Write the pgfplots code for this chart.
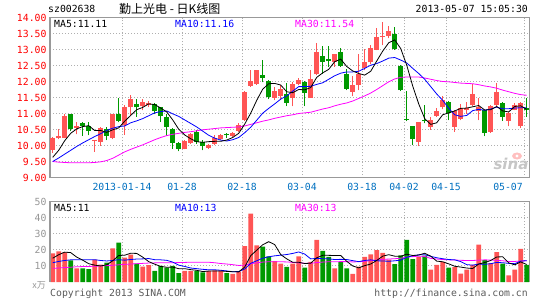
\documentclass[border=0pt]{standalone}
\usepackage{pgfplots}
\pgfplotsset{compat=1.18}
\usepackage{pgfplotstable}
\usepackage{fontspec}
\setmonofont{DejaVu Sans Mono}
\setsansfont{DejaVu Sans}
\newfontfamily\cjk{Noto Sans CJK SC}
\definecolor{kred}{RGB}{255,85,85}
\definecolor{kgreen}{RGB}{0,153,0}
\definecolor{framec}{RGB}{153,153,153}
\definecolor{gridc}{RGB}{175,175,175}
\definecolor{datec}{RGB}{0,112,192}
\definecolor{ma10c}{RGB}{0,0,255}
\definecolor{ma30c}{RGB}{255,0,255}
\definecolor{labgray}{RGB}{150,150,150}
\definecolor{copyc}{RGB}{90,90,90}
\newcommand{\mono}{\ttfamily\fontsize{9.8}{10}\selectfont}
\pgfplotsset{
  candle/.style 2 args={forget plot, only marks, mark=*, mark size=0pt,
    mark options={draw=none, fill=none},
    error bars/.cd, y dir=plus, y explicit, error mark=none,
    error bar style={draw=#1, line width=#2}},
}

\pgfplotstableread{
x o h l c
0 9.87 10.27 9.78 10.22
1 10.22 10.53 10.20 10.30
2 10.25 10.98 10.22 10.93
4 10.55 10.72 10.35 10.60
7 10.14 10.17 9.80 10.17
8 10.11 10.58 10.00 10.55
10 10.25 11.00 10.20 10.98
12 10.64 11.26 10.33 11.19
13 11.19 11.57 10.95 11.45
15 11.22 11.45 11.10 11.35
16 11.28 11.40 11.20 11.33
22 9.90 10.17 9.88 10.15
23 10.08 10.40 10.05 10.35
26 9.93 10.04 9.90 10.01
27 10.06 10.32 10.01 10.22
28 10.20 10.37 10.17 10.32
30 10.30 10.42 10.28 10.39
31 10.45 10.69 10.42 10.64
32 10.80 11.70 10.77 11.68
33 11.86 12.36 11.83 12.01
34 11.92 12.37 11.90 12.35
37 11.50 11.83 11.42 11.70
38 11.54 11.89 11.42 11.76
40 11.50 11.99 11.23 11.92
41 11.92 12.12 11.89 12.06
43 11.50 12.35 11.50 12.09
44 12.22 13.19 12.20 12.92
47 12.62 12.87 12.46 12.87
50 11.68 12.17 11.54 11.89
51 11.89 12.85 11.73 12.25
52 12.41 13.03 12.35 12.61
53 12.60 13.15 12.56 13.05
54 13.00 13.66 12.98 13.40
55 13.40 13.86 13.14 13.43
56 13.42 13.73 13.35 13.58
61 10.12 10.74 9.98 10.74
63 10.58 10.90 10.50 10.80
64 10.93 11.16 10.90 11.08
65 11.19 11.54 11.13 11.42
67 10.58 11.10 10.43 11.08
68 10.84 11.31 10.79 11.18
69 11.10 11.36 11.00 11.16
70 11.26 11.92 11.23 11.62
71 11.08 11.50 10.79 11.19
73 10.43 11.26 10.40 11.23
74 11.26 11.96 11.19 11.68
76 10.77 11.05 10.60 11.02
77 11.12 11.33 11.10 11.28
78 10.60 11.36 10.56 11.33
}\redk

\pgfplotstableread{
x o h l c
3 10.98 11.00 10.45 10.53
5 10.69 10.74 10.30 10.60
6 10.62 10.74 10.32 10.45
9 10.53 10.58 10.17 10.30
11 11.00 11.50 10.72 10.77
14 11.31 11.45 10.90 11.19
17 11.31 11.33 10.98 11.07
18 11.19 11.20 10.74 10.92
19 10.90 11.00 10.29 10.58
20 10.53 10.55 9.90 10.08
21 10.08 10.10 9.82 9.90
24 10.42 10.47 10.06 10.11
25 10.11 10.17 9.85 9.98
29 10.35 10.40 10.25 10.32
35 12.20 12.67 11.97 12.11
36 12.01 12.06 11.45 11.52
39 11.60 11.96 11.23 11.33
42 11.97 12.01 11.23 11.65
45 12.79 13.10 12.25 12.61
46 12.70 13.10 12.46 12.63
48 12.92 13.06 12.46 12.48
49 12.25 12.38 11.73 11.78
57 13.50 13.71 13.00 13.03
58 12.48 12.51 11.70 11.73
59 10.83 11.70 10.76 10.79
60 10.60 10.60 10.01 10.19
62 10.79 11.26 10.69 10.76
66 11.36 11.40 10.79 11.02
72 11.10 11.12 10.29 10.40
75 11.33 11.36 10.77 10.90
79 11.16 11.50 10.90 11.12
}\greenk

\pgfplotstableread{
x ma5 ma10 ma30
0 9.63 9.50 9.50
1 9.85 9.61 9.48
2 10.15 9.73 9.47
3 10.38 9.85 9.46
4 10.52 9.97 9.46
5 10.59 10.08 9.46
6 10.62 10.18 9.46
7 10.47 10.28 9.47
8 10.47 10.37 9.49
9 10.41 10.47 9.53
10 10.49 10.54 9.60
11 10.55 10.59 9.70
12 10.76 10.61 9.80
13 10.94 10.71 9.88
14 11.12 10.77 9.95
15 11.19 10.84 10.02
16 11.30 10.93 10.10
17 11.28 11.02 10.18
18 11.17 11.06 10.25
19 11.05 11.08 10.31
20 10.80 10.99 10.35
21 10.51 10.91 10.38
22 10.33 10.80 10.41
23 10.21 10.69 10.43
24 10.12 10.58 10.46
25 10.10 10.45 10.49
26 10.12 10.32 10.51
27 10.13 10.23 10.53
28 10.13 10.17 10.55
29 10.17 10.14 10.56
30 10.25 10.18 10.57
31 10.38 10.25 10.58
32 10.67 10.40 10.61
33 11.01 10.57 10.66
34 11.41 10.79 10.71
35 11.76 11.01 10.76
36 11.93 11.16 10.80
37 11.94 11.30 10.85
38 11.89 11.45 10.89
39 11.68 11.55 10.93
40 11.65 11.70 10.96
41 11.75 11.84 11.00
42 11.74 11.84 11.02
43 11.81 11.85 11.04
44 12.13 11.91 11.09
45 12.27 11.96 11.14
46 12.38 12.07 11.18
47 12.62 12.18 11.24
48 12.70 12.26 11.29
49 12.47 12.30 11.33
50 12.33 12.30 11.39
51 12.25 12.32 11.47
52 12.20 12.41 11.55
53 12.32 12.51 11.64
54 12.64 12.56 11.75
55 12.95 12.64 11.87
56 13.21 12.73 11.99
57 13.30 12.75 12.08
58 13.03 12.67 12.13
59 12.51 12.58 12.14
60 11.86 12.41 12.14
61 11.30 12.25 12.14
62 10.84 12.07 12.11
63 10.66 11.84 12.07
64 10.71 11.61 12.03
65 10.96 11.41 12.00
66 11.02 11.16 11.99
67 11.08 10.96 11.97
68 11.16 10.91 11.95
69 11.17 10.94 11.94
70 11.21 11.09 11.93
71 11.25 11.13 11.90
72 11.11 11.10 11.86
73 11.12 11.14 11.83
74 11.22 11.20 11.79
75 11.08 11.15 11.73
76 11.05 11.15 11.68
77 11.22 11.17 11.63
78 11.24 11.18 11.59
79 11.13 11.18 11.57
}\mak

\pgfplotstableread{
x v
0 17.8
1 19.0
2 18.5
4 8.5
7 14.0
8 10.8
10 21.0
12 15.2
13 17.0
15 9.5
16 10.5
22 7.0
23 7.0
26 7.0
27 7.3
28 7.0
30 5.0
31 6.5
32 22.3
33 42.5
34 22.8
37 13.0
38 11.5
40 11.5
41 16.0
43 12.5
44 26.3
47 8.5
50 5.0
51 9.5
52 15.7
53 17.2
54 19.8
55 18.2
56 14.0
61 15.7
63 7.7
64 10.7
65 12.5
67 9.2
68 5.2
69 7.7
70 10.7
71 23.2
73 11.7
74 18.6
76 4.2
77 7.7
78 20.7
}\redv

\pgfplotstableread{
x v
3 13.5
5 8.5
6 8.0
9 12.0
11 24.5
14 11.5
17 7.0
18 10.0
19 9.0
20 10.0
21 5.5
24 7.0
25 6.0
29 5.6
35 22.0
36 16.0
39 9.4
42 9.0
45 19.4
46 15.6
48 12.5
49 8.5
57 11.2
58 16.6
59 26.3
60 14.2
62 16.5
66 9.0
72 13.7
75 11.4
79 10.7
}\greenv

\pgfplotstableread{
x ma5 ma10 ma30
0 14.8 12.0 8.5
1 17.0 12.8 8.7
2 18.6 13.4 9.0
3 18.3 13.8 9.2
4 15.5 13.9 9.5
5 13.6 13.9 9.6
6 11.4 13.9 9.7
7 10.5 13.9 9.8
8 10.0 13.4 10.0
9 10.7 13.1 10.2
10 13.2 13.4 10.4
11 16.5 13.9 10.7
12 16.7 13.6 11.0
13 17.9 14.0 11.2
14 17.8 14.3 11.4
15 15.5 14.4 11.6
16 12.7 14.6 11.8
17 11.1 13.9 11.9
18 9.7 13.8 12.0
19 9.2 13.5 12.0
20 9.3 12.4 12.0
21 8.3 10.5 12.1
22 8.3 9.7 12.2
23 7.7 8.7 12.3
24 7.3 8.3 12.3
25 6.5 7.9 12.3
26 6.8 7.6 12.3
27 6.9 7.6 12.0
28 6.9 7.3 11.5
29 6.6 6.9 11.2
30 6.4 6.4 10.8
31 6.3 6.5 10.3
32 9.3 8.1 10.5
33 16.4 11.6 11.4
34 19.8 13.2 11.9
35 23.2 14.8 12.4
36 25.1 15.7 12.6
37 23.3 16.3 12.6
38 17.1 16.7 12.6
39 14.4 17.1 12.5
40 12.3 17.8 12.2
41 12.3 18.7 11.9
42 11.5 17.4 11.7
43 11.7 14.4 11.6
44 15.1 14.7 12.1
45 16.6 14.5 12.4
46 16.6 14.4 12.6
47 16.5 14.0 12.6
48 16.5 14.1 12.7
49 12.9 14.0 12.7
50 10.0 13.3 12.5
51 8.8 12.7 12.6
52 10.2 13.4 12.9
53 11.2 13.8 13.3
54 13.4 13.2 13.7
55 16.1 13.1 14.1
56 17.0 12.9 14.3
57 16.1 13.2 14.5
58 16.0 13.6 14.8
59 17.3 15.4 15.5
60 16.5 16.3 15.8
61 16.8 16.9 16.1
62 17.9 17.0 15.9
63 16.1 16.0 14.7
64 13.0 15.1 14.3
65 12.6 14.5 14.0
66 11.3 14.0 13.8
67 9.8 13.8 13.7
68 9.3 12.7 13.5
69 8.7 10.8 13.4
70 8.4 10.5 13.4
71 11.2 11.2 13.6
72 12.1 11.0 13.8
73 13.4 11.4 13.7
74 15.6 12.2 13.5
75 15.7 12.0 13.2
76 11.9 11.6 12.8
77 10.7 11.4 12.8
78 12.5 13.0 13.1
79 10.9 13.3 13.2
}\mavol

\begin{document}
\begin{tikzpicture}
\useasboundingbox (0,0) rectangle (545pt,300pt);

% ---------------- upper (price) panel
\begin{axis}[
  at={(50pt,122.5pt)}, anchor=south west, scale only axis,
  width=479.3pt, height=160pt,
  xmin=-0.45, xmax=79.43, ymin=9, ymax=14,
  axis line style={draw=framec, line width=1.3pt},
  xtick={11.6,21.6,31.6,41.6,51.6,58.6,65.6,78.6},
  xticklabel=\empty,
  ytick={9,9.5,10,10.5,11,11.5,12,12.5,13,13.5,14},
  yticklabels={9.00,9.50,10.00,10.50,11.00,11.50,12.00,12.50,13.00,13.50,14.00},
  yticklabel style={text=red, font=\mono},
  major tick length=0pt,
  grid=major,
  major grid style={draw=gridc, dash pattern=on 1pt off 2pt, line width=0.9pt},
  clip mode=individual,
]
% wicks
\addplot[candle={kred}{1pt}]
  table[x=x, y=l, y error expr=\thisrow{h}-\thisrow{l}] {\redk};
\addplot[candle={kgreen}{1pt}]
  table[x=x, y=l, y error expr=\thisrow{h}-\thisrow{l}] {\greenk};
% bodies
\addplot[candle={kred}{4.6pt}]
  table[x=x, y=o, y error expr=\thisrow{c}-\thisrow{o}] {\redk};
\addplot[candle={kgreen}{4.6pt}]
  table[x=x, y=c, y error expr=\thisrow{o}-\thisrow{c}] {\greenk};
% moving averages
\addplot[ma30c, line width=0.8pt, mark=none] table[x=x, y=ma30] {\mak};
\addplot[ma10c, line width=0.8pt, mark=none] table[x=x, y=ma10] {\mak};
\addplot[black, line width=0.8pt, mark=none] table[x=x, y=ma5] {\mak};
\end{axis}

% ---------------- lower (volume) panel
\begin{axis}[
  at={(50pt,18pt)}, anchor=south west, scale only axis,
  width=479.3pt, height=80.3pt,
  xmin=-0.45, xmax=79.43, ymin=0, ymax=50,
  axis line style={draw=none},
  xtick={11.6,21.6,31.6,41.6,51.6,58.6,65.6,78.6},
  xticklabel=\empty,
  ytick={10,20,30,40,50},
  yticklabels={10,20,30,40,50},
  yticklabel style={text=labgray, font=\mono},
  major tick length=0pt,
  grid=major,
  major grid style={draw=gridc, dash pattern=on 1pt off 2pt, line width=0.9pt},
  clip mode=individual,
]
\addplot[ybar, bar width=4.8pt, bar shift=0pt, fill=kred, draw=none] table[x=x, y=v] {\redv};
\addplot[ybar, bar width=4.8pt, bar shift=0pt, fill=kgreen, draw=none] table[x=x, y=v] {\greenv};
\addplot[ma30c, line width=0.8pt, mark=none] table[x=x, y=ma30] {\mavol};
\addplot[ma10c, line width=0.8pt, mark=none] table[x=x, y=ma10] {\mavol};
\addplot[black, line width=0.8pt, mark=none] table[x=x, y=ma5] {\mavol};
\end{axis}
\draw[framec, line width=1.3pt] (50pt,18pt) -- (50pt,98.3pt) -- (529.3pt,98.3pt) -- (529.3pt,18pt);

% ---------------- texts
\node[anchor=west, inner sep=0pt, font=\mono] at (48pt,291pt) {sz002638};
\node[anchor=west, inner sep=0pt, font=\cjk\fontsize{12}{12}\selectfont] at (119pt,291pt) {勤上光电 - 日K线图};
\node[anchor=east, inner sep=0pt, font=\mono] at (528pt,291pt) {2013-05-07 15:05:30};

\node[anchor=west, inner sep=0pt, font=\mono] at (54pt,276pt) {MA5:11.11};
\node[anchor=west, inner sep=0pt, font=\mono, text=ma10c] at (175pt,276pt) {MA10:11.16};
\node[anchor=west, inner sep=0pt, font=\mono, text=ma30c] at (295pt,276pt) {MA30:11.54};

\foreach \xx/\lab in {122/2013-01-14, 182/01-28, 242/02-18, 302/03-04, 362/03-18, 404/04-02, 446/04-15, 508/05-07}
  \node[inner sep=0pt, font=\mono, text=datec] at (\xx pt,113pt) {\lab};

\node[anchor=west, inner sep=0pt, font=\mono] at (54pt,92pt) {MA5:11};
\node[anchor=west, inner sep=0pt, font=\mono, text=ma10c] at (175pt,92pt) {MA10:13};
\node[anchor=west, inner sep=0pt, font=\mono, text=ma30c] at (295pt,92pt) {MA30:13};

\node[anchor=east, inner sep=0pt, text=labgray, font=\cjk\fontsize{9}{9}\selectfont] at (46pt,15pt) {x万};
\node[anchor=west, inner sep=0pt, font=\mono, text=copyc] at (50pt,6pt) {Copyright 2013 SINA.COM};
\node[anchor=east, inner sep=0pt, font=\mono, text=copyc] at (528pt,6pt) {http://finance.sina.com.cn};

% sina watermark
\fill[red!25] (517pt,144pt) ellipse (5pt and 3.5pt);
\fill[white] (517pt,144pt) circle (1.6pt);
\node[inner sep=0pt, text=gray!45, font=\sffamily\bfseries\itshape\fontsize{15}{15}\selectfont] at (511pt,136pt) {sina};
\end{tikzpicture}
\end{document}
